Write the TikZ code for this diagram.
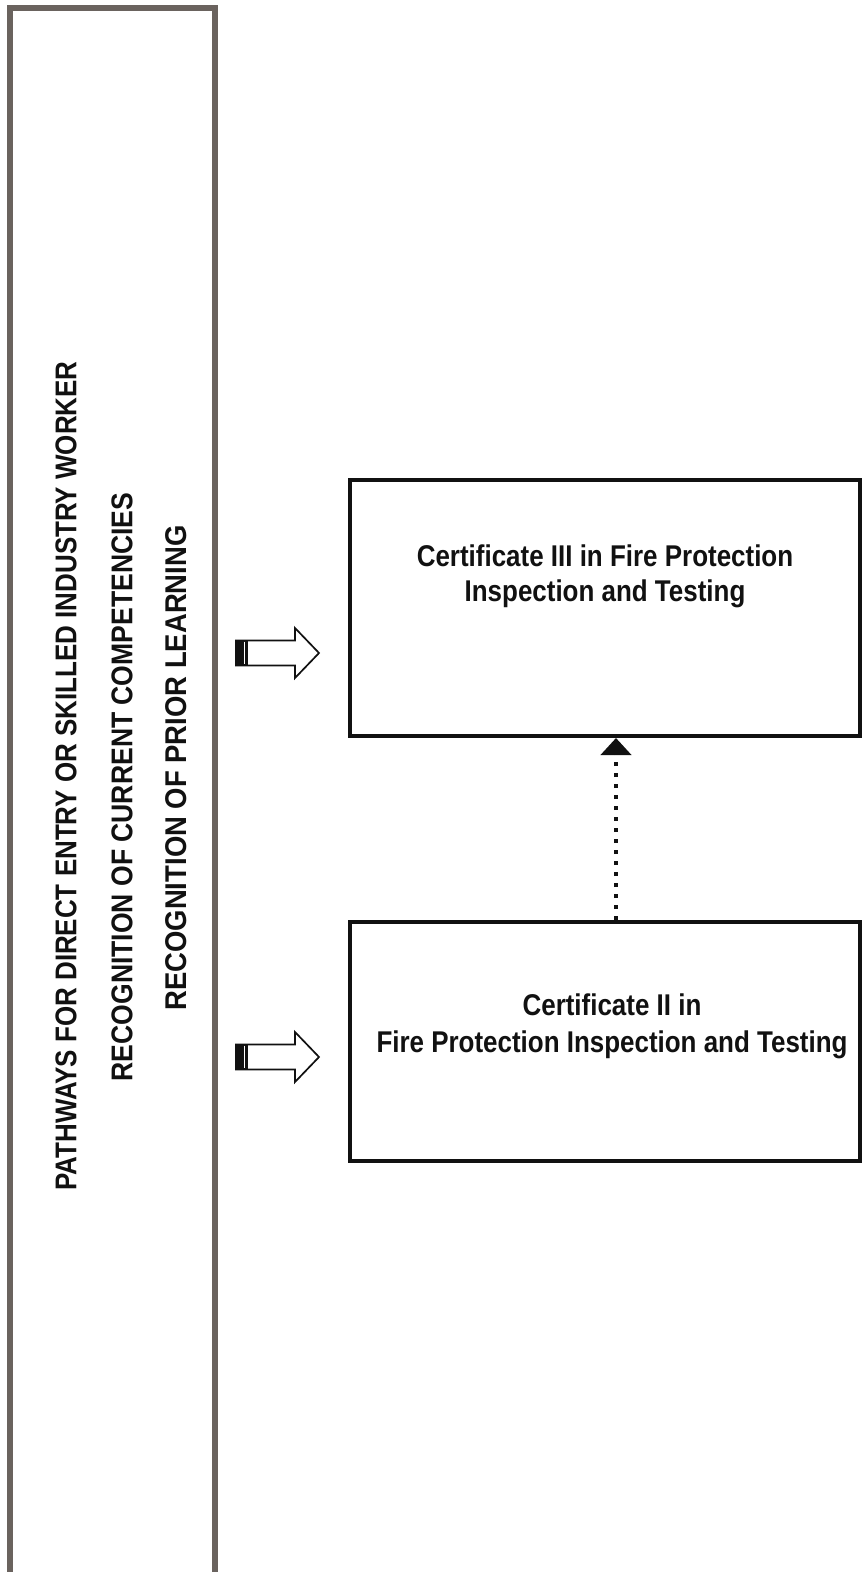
\documentclass[tikz,border=0pt]{standalone}
\usepackage{fontspec}
\setmainfont{Liberation Sans}
\newfontfamily\condfont[FakeStretch=0.865]{Liberation Sans}
\newfontfamily\condfontb[FakeStretch=0.885]{Liberation Sans}
\newfontfamily\condfontc[FakeStretch=0.915]{Liberation Sans}
\usetikzlibrary{arrows.meta}
\definecolor{panelgray}{HTML}{6A635E}
\definecolor{ink}{HTML}{111111}
\tikzset{
  panel/.style={draw=panelgray, line width=5.5},
  certbox/.style={draw=ink, line width=4, fill=white, inner sep=0pt},
  certtext/.style={text=ink, align=center, font=\condfont\bfseries\fontsize{30}{35}\selectfont, inner sep=0pt},
  vtext/.style={text=ink, rotate=90, font=\condfont\bfseries\fontsize{30}{33}\selectfont, inner sep=0pt},
  dotline/.style={draw=ink, line width=4.5, dash pattern=on 4.5 off 6.5, -{Triangle[length=17pt,width=30pt]}},
  pics/blockarrow/.style={code={
    \draw[draw=ink, line width=1.7, fill=white, line join=miter]
      (0,-12.5) -- (59,-12.5) -- (59,-25) -- (83,0) -- (59,25) -- (59,12.5) -- (0,12.5) -- cycle;
    \fill[ink] (0,-12.5) rectangle (12,12.5);
    \draw[white, line width=1.3] (8.3,-11.3) -- (8.3,11.3);
  }}
}
\begin{document}
\begin{tikzpicture}[x=1pt,y=-1pt]
\fill[white] (0,0) rectangle (867,1572);
\clip (0,0) rectangle (867,1572);
% left panel
\draw[panel] (10,8) rectangle (215,1600);
\node[vtext] (t1) at (66,776) {PATHWAYS FOR DIRECT ENTRY OR SKILLED INDUSTRY WORKER};
\node[vtext, font=\condfontb\bfseries\fontsize{30}{33}\selectfont] (t2) at (122,787) {RECOGNITION OF CURRENT COMPETENCIES};
\node[vtext, font=\condfontc\bfseries\fontsize{30}{33}\selectfont] (t3) at (176,768) {RECOGNITION OF PRIOR LEARNING};
% certificate boxes
\node[certbox, minimum width=510, minimum height=256] (cert3) at (605,608) {};
\node[certtext] (cert3txt) at (605,576) {Certificate III in Fire Protection\\Inspection and Testing};
\node[certbox, minimum width=510, minimum height=239] (cert2) at (605,1041.5) {};
\node[certtext, font=\condfont\bfseries\fontsize{30}{37}\selectfont] (cert2txt) at (612,1026) {Certificate II in\\Fire Protection Inspection and Testing};
% block arrows
\pic at (236,653) {blockarrow};
\pic at (236,1057) {blockarrow};
% dotted connector
\coordinate (cx) at (616,0);
\draw[dotline] (cert2.north -| cx) -- (cert3.south -| cx);
\end{tikzpicture}
\end{document}
